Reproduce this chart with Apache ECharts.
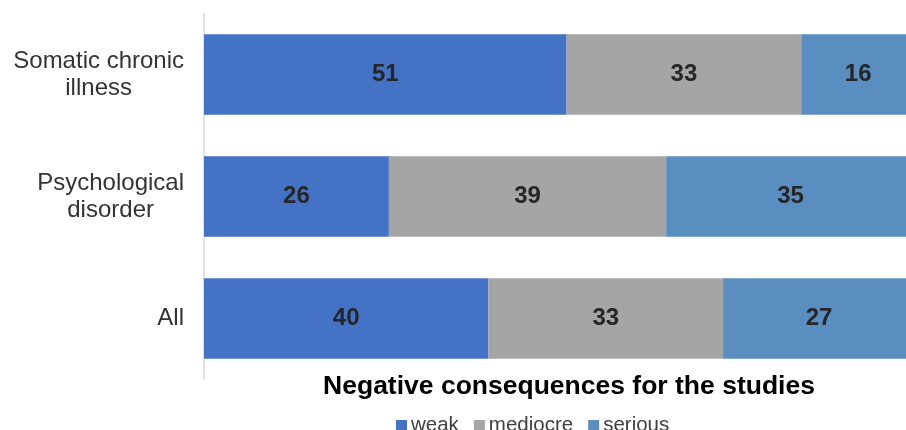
<!DOCTYPE html>
<html lang="en">
<head>
    <meta charset="UTF-8">
    <title>Negative consequences for the studies</title>
    <script src="https://cdn.jsdelivr.net/npm/echarts@6/dist/echarts.min.js"></script>
    <style>
        html, body { margin: 0; padding: 0; background: #fff; }
        #chart { width: 906px; height: 430px; }
    </style>
</head>
<body>
<div id="chart"></div>
<script type="text/javascript">
    // categories, top to bottom
    var categories = ['Somatic chronic\nillness', 'Psychological\ndisorder', 'All'];
    var weak = [51, 26, 40];
    var mediocre = [33, 39, 33];
    var serious = [16, 35, 27];

    var myChart = echarts.init(document.getElementById('chart'));

    var labelStyle = {
        show: true,
        position: 'inside',
        color: '#262626',
        fontFamily: 'Liberation Sans, Arial, sans-serif',
        fontWeight: 'bold',
        fontSize: 24
    };

    function makeSeries(name, data, color) {
        return {
            name: name,
            type: 'bar',
            stack: 'total',
            clip: false,
            barCategoryGap: '34%',
            data: data,
            itemStyle: {color: color},
            label: labelStyle
        };
    }

    var option = {
        animation: false,
        title: {
            text: 'Negative consequences for the studies',
            left: 569,
            top: 373,
            padding: 0,
            textAlign: 'center',
            textStyle: {
                fontFamily: 'Liberation Sans, Arial, sans-serif',
                fontWeight: 'bold',
                fontSize: 26.5,
                color: '#000'
            }
        },
        legend: {
            left: 396,
            top: 415,
            padding: 0,
            itemWidth: 11,
            itemHeight: 11,
            itemGap: 15,
            icon: 'rect',
            textStyle: {
                fontFamily: 'Liberation Sans, Arial, sans-serif',
                fontSize: 20.5,
                color: '#404040',
                padding: [0, 0, 0, -1]
            },
            data: ['weak', 'mediocre', 'serious']
        },
        // the plot runs a little past the right edge of the picture
        grid: {
            left: 204,
            top: 13.5,
            right: 0,
            height: 366
        },
        xAxis: {
            type: 'value',
            min: 0,
            max: 98.73,
            show: false
        },
        yAxis: {
            type: 'category',
            inverse: true,
            data: categories,
            axisLine: {lineStyle: {color: '#d9d9d9', width: 1.5}},
            axisTick: {show: false},
            axisLabel: {
                margin: 20,
                formatter: function (v) {
                    return v.split('\n').map(function (s) {
                        return '{a|' + s + '}';
                    }).join('\n');
                },
                rich: {
                    a: {
                        align: 'center',
                        fontFamily: 'Liberation Sans, Arial, sans-serif',
                        fontSize: 24,
                        lineHeight: 27,
                        color: '#333'
                    }
                }
            }
        },
        series: [
            makeSeries('weak', weak, '#4472c4'),
            makeSeries('mediocre', mediocre, '#a5a5a5'),
            makeSeries('serious', serious, '#5a8ec1')
        ]
    };
    myChart.setOption(option);
</script>
</body>
</html>
